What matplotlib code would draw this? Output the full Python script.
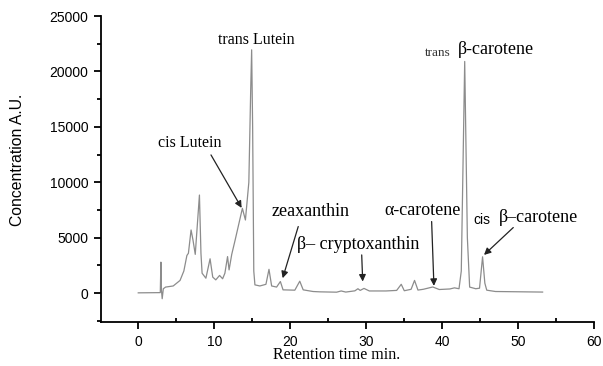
import numpy as np
import matplotlib
matplotlib.use("Agg")
import matplotlib.pyplot as plt
from matplotlib.ticker import MultipleLocator

# chromatogram trace (retention time in min, signal in A.U.)
time_min = [0.0, 2.9, 2.98, 3.05, 3.15, 3.3, 3.6, 4.6, 5.5, 6.0, 6.4, 6.6, 6.95, 7.2,
            7.5, 8.05, 8.25, 8.4, 8.9, 9.45, 9.8, 10.2, 10.7, 11.1, 11.4, 11.75, 11.95,
            12.3, 12.75, 13.35, 13.7, 14.1, 14.55, 14.8, 14.92, 15.05, 15.2, 15.35,
            16.0, 16.8, 17.2, 17.55, 18.2, 18.7, 19.05, 20.6, 21.25, 21.7, 23.0, 23.9,
            26.1, 26.7, 27.3, 28.5, 28.9, 29.2, 29.7, 30.4, 32.6, 34.0, 34.6, 35.0,
            35.9, 36.35, 36.8, 37.5, 38.75, 39.6, 41.0, 41.6, 42.2, 42.5, 42.95, 43.3,
            43.6, 44.4, 44.9, 45.3, 45.6, 45.85, 47.0, 53.2]
signal = [30, 50, 2800, 300, -500, 400, 550, 650, 1150, 2000, 3400, 3600, 5700, 4800,
          3500, 8850, 3600, 1800, 1350, 3100, 1450, 1200, 1600, 1300, 1800, 3300, 2100,
          3500, 4800, 6600, 7650, 6600, 10000, 18500, 21950, 15000, 2000, 750,
          650, 800, 2150, 650, 550, 1050, 300, 270, 1080, 300, 150, 120,
          90, 200, 100, 210, 400, 250, 430, 200, 200, 250, 800, 220,
          350, 1150, 280, 350, 560, 330, 380, 480, 400, 2000, 20900, 5000,
          550, 400, 450, 3280, 900, 270, 150, 100]

# peak labels: (text, x, y, fontsize)
labels = [("cis Lutein", 6.8, 13560, 11.5),
          ("trans Lutein", 15.5, 22850, 11.5),
          ("zeaxanthin", 22.7, 7330, 13),
          ("β– cryptoxanthin", 29.0, 4360, 13),
          ("α-carotene", 37.45, 7420, 13),
          ("β-carotene", 47.1, 21950, 13),
          ("β–carotene", 52.6, 6790, 13)]
# arrows: (x_from, y_from, x_to, y_to)
arrows = [(9.57, 12470, 13.6, 7690),
          (21.05, 6010, 19.0, 1350),
          (29.4, 3450, 29.53, 1050),
          (38.6, 6460, 38.9, 660),
          (49.34, 5920, 45.49, 3450)]

serif = ["Liberation Serif", "DejaVu Serif"]
sans = ["Liberation Sans", "DejaVu Sans"]

fig = plt.figure(figsize=(6.03, 3.66), dpi=100)
ax = fig.add_axes([101 / 603, 1 - 322 / 366, 493.3 / 603, 306 / 366])

ax.plot(time_min, signal, color="#8c8c8c", lw=0.9)

ax.set_xlim(-4.9, 60)
ax.set_ylim(-2600, 25000)
ax.spines["top"].set_visible(False)
ax.spines["right"].set_visible(False)
ax.spines["left"].set_bounds(-2600, 25000)
for s in ("left", "bottom"):
    ax.spines[s].set_linewidth(1.3)

ax.xaxis.set_major_locator(MultipleLocator(10))
ax.xaxis.set_minor_locator(MultipleLocator(5))
ax.yaxis.set_major_locator(MultipleLocator(5000))
ax.yaxis.set_minor_locator(MultipleLocator(2500))
ax.tick_params(axis="both", which="major", direction="out", length=5, width=1.3, pad=4)
ax.tick_params(axis="y", which="minor", direction="out", length=3, width=1.3)
ax.tick_params(axis="x", which="minor", direction="in", length=3, width=1.3)
for lab in ax.get_xticklabels() + ax.get_yticklabels():
    lab.set_family(sans)
    lab.set_fontsize(10)

for txt, x, y, fs in labels:
    ax.text(x, y, txt, ha="center", va="center", fontsize=fs, family=serif)
ax.text(39.4, 21700, "trans", ha="center", va="center", fontsize=9.5, family=serif,
        color="#333333")
ax.text(45.15, 6600, "cis", ha="center", va="center", fontsize=10, family=sans)

for x0, y0, x1, y1 in arrows:
    ax.annotate("", xy=(x1, y1), xytext=(x0, y0),
                arrowprops=dict(arrowstyle="-|>", color="#222222", lw=0.9,
                                mutation_scale=10, shrinkA=0, shrinkB=0))

fig.text(17.5 / 603, 1 - 160 / 366, "Concentration A.U.", rotation=90, ha="center",
         va="center", fontsize=11.3, family=["Liberation Sans Narrow", "Liberation Sans"])
fig.text(337 / 603, 1 - 355 / 366, "Retention time min.", ha="center", va="center",
         fontsize=11.5, family=serif)

fig.savefig("out.png", dpi=100)
